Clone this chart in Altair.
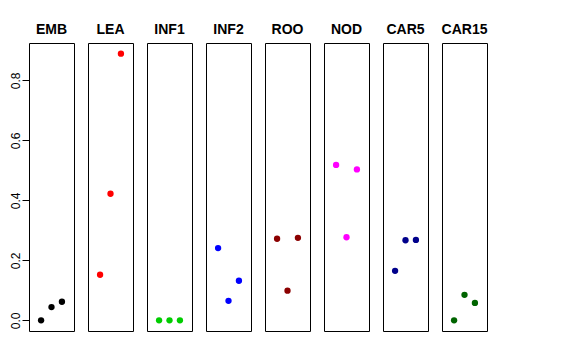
import altair as alt
import pandas as pd

groups = ["EMB", "LEA", "INF1", "INF2", "ROO", "NOD", "CAR5", "CAR15"]
colors = ["#000000", "#FF0000", "#00CD00", "#0000FF", "#8B0000", "#FF00FF", "#00008B", "#006400"]
positions = [1, 2, 3]
values = [
    [0.000, 0.044, 0.062],
    [0.152, 0.422, 0.889],
    [0.000, 0.000, 0.000],
    [0.241, 0.065, 0.132],
    [0.272, 0.099, 0.275],
    [0.518, 0.277, 0.503],
    [0.165, 0.267, 0.268],
    [0.000, 0.085, 0.058],
]
y_ticks = [0.0, 0.2, 0.4, 0.6, 0.8]

ydom = [-0.0356, 0.9246]
xdom = [-0.16, 4.16]

panels = []
for i, (g, c, vals) in enumerate(zip(groups, colors, values)):
    df = pd.DataFrame({"x": positions, "y": vals})
    if i == 0:
        yaxis = alt.Axis(values=y_ticks, format=".1f", labelAngle=270, domain=False,
                         grid=False, tickSize=7, tickColor="#000000", labelPadding=0,
                         labelFont="Liberation Sans", labelFontSize=12, labelColor="#000000",
                         labelAlign="center", labelBaseline="bottom", title=None)
    else:
        yaxis = None
    ch = alt.Chart(df).mark_circle(size=40, opacity=1, color=c).encode(
        x=alt.X("x:Q", scale=alt.Scale(domain=xdom, nice=False, zero=False), axis=None),
        y=alt.Y("y:Q", scale=alt.Scale(domain=ydom, nice=False, zero=False), axis=yaxis),
    ).properties(
        width=45, height=288,
        title=alt.TitleParams(g, font="Liberation Sans", fontSize=14, fontWeight="bold",
                              color="#000000", offset=6, anchor="middle"),
    )
    panels.append(ch)

chart = alt.hconcat(*panels, spacing=12).properties(
    padding={"left": 0, "top": 14, "right": 5, "bottom": 5}
).configure_view(stroke="#000000", strokeWidth=1)

chart.save("out.html", embed_options={"renderer": "svg", "actions": False})
